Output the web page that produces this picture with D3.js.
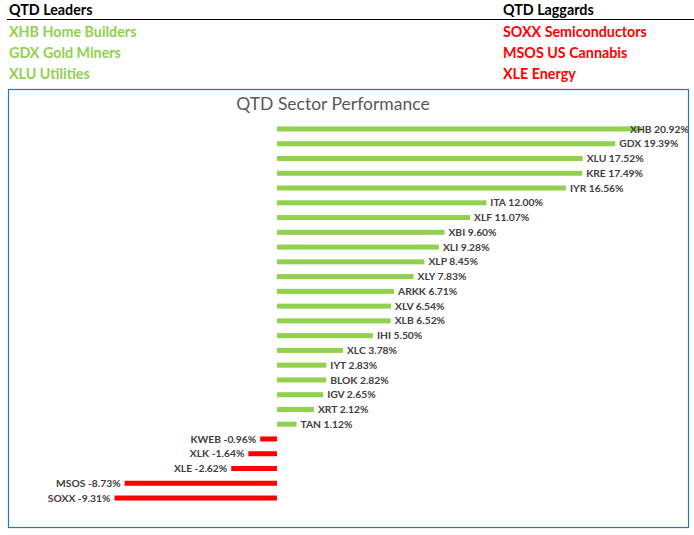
<!DOCTYPE html>
<html>
<head>
<meta charset="utf-8">
<script src="https://cdn.jsdelivr.net/npm/d3@7"></script>
<style>
  body { margin: 0; background: #fff; }
  svg { display: block; }
</style>
</head>
<body>
<div id="chart-area"></div>
<script>
const TICKERS = ['XHB', 'GDX', 'XLU', 'KRE', 'IYR', 'ITA', 'XLF', 'XBI', 'XLI', 'XLP', 'XLY', 'ARKK', 'XLV',
  'XLB', 'IHI', 'XLC', 'IYT', 'BLOK', 'IGV', 'XRT', 'TAN', 'KWEB', 'XLK', 'XLE', 'MSOS', 'SOXX'];
const RETURNS = [20.92, 19.39, 17.52, 17.49, 16.56, 12.00, 11.07, 9.60, 9.28, 8.45, 7.83, 6.71, 6.54,
  6.52, 5.50, 3.78, 2.83, 2.82, 2.65, 2.12, 1.12, -0.96, -1.64, -2.62, -8.73, -9.31];
const LEADERS = ['XHB Home Builders', 'GDX Gold Miners', 'XLU Utilities'];
const LAGGARDS = ['SOXX Semiconductors', 'MSOS US Cannabis', 'XLE Energy'];

const W = 694, H = 535;
const FONT = 'Lato, "Open Sans", sans-serif';
const GREEN = '#92d050', RED = '#ff0000';

const svg = d3.select('#chart-area')
  .append('svg')
  .attr('width', W)
  .attr('height', H)
  .style('font-family', FONT);

// header table
svg.append('text').attr('x', 9).attr('y', 15)
  .attr('font-size', 14.3).attr('font-weight', 'bold').attr('fill', '#000')
  .text('QTD Leaders');
svg.append('text').attr('x', 503).attr('y', 15)
  .attr('font-size', 14.3).attr('font-weight', 'bold').attr('fill', '#000')
  .text('QTD Laggards');
svg.append('line')
  .attr('x1', 7).attr('x2', W).attr('y1', 19.5).attr('y2', 19.5)
  .attr('stroke', '#000').attr('stroke-width', 1.2);

const rowY = d3.scalePoint().domain(d3.range(3)).range([37, 79]);
svg.selectAll('.leader').data(LEADERS).enter()
  .append('text').attr('class', 'leader')
  .attr('x', 9).attr('y', (d, i) => rowY(i))
  .attr('font-size', 14.3).attr('font-weight', 'bold').attr('fill', GREEN)
  .text((d) => d);
svg.selectAll('.laggard').data(LAGGARDS).enter()
  .append('text').attr('class', 'laggard')
  .attr('x', 503).attr('y', (d, i) => rowY(i))
  .attr('font-size', 14.3).attr('font-weight', 'bold').attr('fill', RED)
  .text((d) => d);

// chart frame
svg.append('rect')
  .attr('x', 8.5).attr('y', 89.5).attr('width', 680).attr('height', 438)
  .attr('fill', '#fff').attr('stroke', '#2e75b6').attr('stroke-width', 1.2);

svg.append('text')
  .attr('x', 333).attr('y', 110)
  .attr('text-anchor', 'middle')
  .attr('font-size', 17.5).attr('fill', '#595959')
  .text('QTD Sector Performance');

const data = TICKERS.map((t, i) => ({ ticker: t, value: RETURNS[i] }));

// x: 0 at 277, ~17.45 px per percent
const x = d3.scaleLinear().domain([-9.31, 20.92]).range([114.5, 642]);
const y = d3.scaleBand()
  .domain(TICKERS)
  .range([121.6, 505.4])
  .paddingInner(0.66)
  .paddingOuter(0.33);

const bars = svg.append('g');
bars.selectAll('rect').data(data).enter()
  .append('rect')
  .attr('x', (d) => x(Math.min(0, d.value)))
  .attr('y', (d) => y(d.ticker))
  .attr('width', (d) => Math.abs(x(d.value) - x(0)))
  .attr('height', y.bandwidth())
  .attr('fill', (d) => d.value >= 0 ? GREEN : RED);

bars.selectAll('text').data(data).enter()
  .append('text')
  .attr('x', (d, i) => {
    if (d.value < 0) return x(d.value) - 4;
    return i === 0 ? x(d.value) - 12 : x(d.value) + 4;
  })
  .attr('y', (d) => y(d.ticker) + y.bandwidth() / 2)
  .attr('dy', '0.35em')
  .attr('text-anchor', (d) => d.value < 0 ? 'end' : 'start')
  .attr('font-size', 10.3).attr('font-weight', 'bold').attr('fill', '#404040')
  .text((d) => `${d.ticker} ${d.value.toFixed(2)}%`);
</script>
</body>
</html>
